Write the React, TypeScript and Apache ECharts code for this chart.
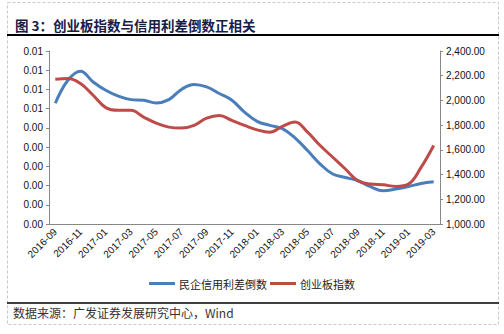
import React, { useEffect, useRef } from "react";
import * as echarts from "echarts";

const months: string[] = [
  "2016-09", "2016-10", "2016-11", "2016-12",
  "2017-01", "2017-02", "2017-03", "2017-04", "2017-05", "2017-06",
  "2017-07", "2017-08", "2017-09", "2017-10", "2017-11", "2017-12",
  "2018-01", "2018-02", "2018-03", "2018-04", "2018-05", "2018-06",
  "2018-07", "2018-08", "2018-09", "2018-10", "2018-11", "2018-12",
  "2019-01", "2019-02", "2019-03",
];

const spreadInverse: number[] = [
  0.00628, 0.00748, 0.00795, 0.00739, 0.00696, 0.00665, 0.00647, 0.00644,
  0.0063, 0.00647, 0.007, 0.00726, 0.00713, 0.00679, 0.00644, 0.00582,
  0.00534, 0.00513, 0.00496, 0.00448, 0.00382, 0.00312, 0.0026, 0.00242,
  0.00225, 0.00194, 0.00173, 0.00182, 0.00195, 0.00211, 0.0022,
];

const chinextIndex: number[] = [
  2172, 2178, 2137, 2042, 1942, 1920, 1920, 1865, 1816, 1784, 1776, 1798,
  1857, 1879, 1838, 1798, 1762, 1743, 1790, 1825, 1743, 1635, 1540, 1445,
  1350, 1323, 1317, 1304, 1323, 1458, 1635,
];

const leftAxis = { min: 0, max: 0.009, interval: 0.001 };
const rightAxis = { min: 1000, max: 2400, interval: 200 };

const titleText = "图 3：创业板指数与信用利差倒数正相关";
const sourceText = "数据来源：广发证券发展研究中心，Wind";
const seriesNames = ["民企信用利差倒数", "创业板指数"];

export default function App() {
  const ref = useRef<HTMLDivElement>(null);
  useEffect(() => {
    if (!ref.current) return;
    const chart = echarts.init(ref.current, null, { renderer: "svg" });
    const font = "Arial, 'Liberation Sans', sans-serif";
    const cjk = "'Noto Sans CJK SC', sans-serif";
    chart.setOption({
      animation: false,
      backgroundColor: "#fff",
      textStyle: { fontFamily: font },
      grid: { left: 49, right: 64, top: 51, bottom: 110, containLabel: false },
      legend: {
        data: seriesNames,
        bottom: 40,
        left: "center",
        icon: "rect",
        itemWidth: 26,
        itemHeight: 3,
        itemGap: 3,
        textStyle: { fontSize: 11, color: "#222", fontFamily: cjk, padding: [0, 0, 0, -1] },
      },
      xAxis: {
        type: "category",
        data: months,
        boundaryGap: true,
        axisLine: { lineStyle: { color: "#888", width: 1 } },
        axisTick: { interval: 1, length: 3, lineStyle: { color: "#888" } },
        axisLabel: { interval: 1, rotate: 45, fontSize: 10, color: "#111", margin: 6 },
        splitLine: { show: false },
      },
      yAxis: [
        {
          type: "value",
          min: leftAxis.min,
          max: leftAxis.max,
          interval: leftAxis.interval,
          position: "left",
          axisLine: { show: true, lineStyle: { color: "#888" } },
          axisTick: { show: true, length: 3, lineStyle: { color: "#888" } },
          axisLabel: {
            fontSize: 10,
            color: "#111",
            margin: 6,
            formatter: (v: number) => Math.max(0, v - 1e-9).toFixed(2),
          },
          splitLine: { show: false },
        },
        {
          type: "value",
          min: rightAxis.min,
          max: rightAxis.max,
          interval: rightAxis.interval,
          position: "right",
          axisLine: { show: true, lineStyle: { color: "#888" } },
          axisTick: { show: true, length: 3, lineStyle: { color: "#888" } },
          axisLabel: {
            fontSize: 10,
            color: "#111",
            margin: 6,
            formatter: (v: number) =>
              v.toLocaleString("en-US", { minimumFractionDigits: 2, maximumFractionDigits: 2 }),
          },
          splitLine: { show: false },
        },
      ],
      series: [
        {
          name: seriesNames[0],
          type: "line",
          yAxisIndex: 0,
          data: spreadInverse,
          smooth: 0.4,
          showSymbol: false,
          symbol: "none",
          itemStyle: { color: "#4A7EBB" },
          lineStyle: { color: "#4A7EBB", width: 3 },
        },
        {
          name: seriesNames[1],
          type: "line",
          yAxisIndex: 1,
          data: chinextIndex,
          smooth: 0.4,
          showSymbol: false,
          symbol: "none",
          itemStyle: { color: "#BE4B48" },
          lineStyle: { color: "#BE4B48", width: 3 },
        },
      ],
      graphic: [
        {
          type: "rect",
          shape: { x: 7.5, y: 2.5, width: 491, height: 322 },
          style: { fill: "none", stroke: "#c8c8c8", lineWidth: 1, lineDash: [3, 2] },
          silent: true,
        },
        {
          type: "text",
          x: 15,
          y: 18,
          style: {
            text: titleText,
            fontSize: 13.5,
            fontWeight: "bold",
            fill: "#15204a",
            fontFamily: cjk,
          },
        },
        {
          type: "line",
          shape: { x1: 7, y1: 35, x2: 499, y2: 35 },
          style: { stroke: "#000", lineWidth: 2 },
        },
        {
          type: "line",
          shape: { x1: 7, y1: 303, x2: 499, y2: 303 },
          style: { stroke: "#000", lineWidth: 1.5 },
        },
        {
          type: "text",
          x: 13,
          y: 306,
          style: {
            text: sourceText,
            fontSize: 12,
            fill: "#333",
            fontFamily: cjk,
          },
        },
      ],
    });
    return () => chart.dispose();
  }, []);
  return (
    <div
      ref={ref}
      style={{ position: "fixed", left: 0, top: 0, width: 504, height: 334 }}
    />
  );
}
